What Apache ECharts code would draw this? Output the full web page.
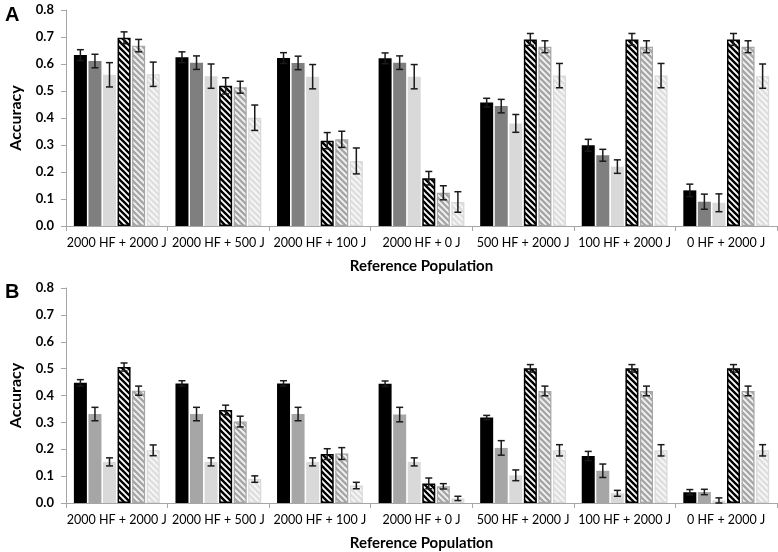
<!DOCTYPE html>
<html>
<head>
<meta charset="utf-8">
<script src="https://cdn.jsdelivr.net/npm/echarts@6/dist/echarts.min.js"></script>
<style>
html,body{margin:0;padding:0;background:#fff;}
#chart{width:778px;height:552px;}
</style>
</head>
<body>
<div id="chart"></div>
<script>
// ---------- DATA ----------
const categories = ['2000 HF + 2000 J','2000 HF + 500 J','2000 HF + 100 J','2000 HF + 0 J','500 HF + 2000 J','100 HF + 2000 J','0 HF + 2000 J'];
const yTicks = [0.0,0.1,0.2,0.3,0.4,0.5,0.6,0.7,0.8];

// Panel A
const A1 = [0.633,0.625,0.622,0.621,0.457,0.299,0.132];
const A1err = [0.020,0.020,0.020,0.020,0.016,0.022,0.023];
const A2 = [0.611,0.605,0.604,0.605,0.444,0.262,0.090];
const A2err = [0.025,0.025,0.025,0.025,0.025,0.022,0.028];
const A3 = [0.560,0.555,0.553,0.553,0.380,0.220,0.086];
const A3err = [0.045,0.045,0.045,0.045,0.033,0.025,0.033];
const A4 = [0.697,0.519,0.316,0.177,0.691,0.691,0.691];
const A4err = [0.022,0.030,0.030,0.025,0.022,0.022,0.022];
const A5 = [0.668,0.514,0.321,0.123,0.664,0.664,0.664];
const A5err = [0.023,0.022,0.030,0.026,0.022,0.022,0.022];
const A6 = [0.562,0.401,0.241,0.089,0.557,0.557,0.555];
const A6err = [0.045,0.047,0.048,0.038,0.045,0.045,0.045];

// Panel B
const B1 = [0.447,0.445,0.445,0.444,0.318,0.175,0.040];
const B1err = [0.012,0.010,0.010,0.010,0.008,0.017,0.010];
const B2 = [0.331,0.331,0.331,0.329,0.205,0.120,0.041];
const B2err = [0.025,0.025,0.025,0.027,0.027,0.025,0.010];
const B3 = [0.153,0.153,0.153,0.153,0.103,0.036,0.009];
const B3err = [0.015,0.015,0.015,0.015,0.020,0.011,0.010];
const B4 = [0.506,0.346,0.182,0.073,0.501,0.501,0.501];
const B4err = [0.015,0.018,0.020,0.020,0.014,0.014,0.014];
const B5 = [0.418,0.303,0.184,0.062,0.417,0.417,0.417];
const B5err = [0.017,0.020,0.022,0.010,0.018,0.018,0.018];
const B6 = [0.196,0.089,0.065,0.017,0.196,0.196,0.196];
const B6err = [0.020,0.012,0.012,0.008,0.021,0.021,0.021];

// ---------- STYLE ----------
const BAR_W = 13;
const BAR_GAP_FRAC = 0.12;
const FONT = 'Lato';

function hatch(stripe, bg){
  const s = 6;
  const c = document.createElement('canvas');
  c.width = s; c.height = s;
  const g = c.getContext('2d');
  g.fillStyle = bg; g.fillRect(0,0,s,s);
  g.strokeStyle = stripe; g.lineWidth = 2.4; g.lineCap = 'square';
  for (let k=-1;k<=1;k++){
    g.beginPath(); g.moveTo(k*s, 0); g.lineTo(k*s + s, s); g.stroke();
  }
  return {image: c, repeat: 'repeat'};
}

function styles(darkGray){
  return [
    {color:'#000000', borderColor:'#000000', borderWidth:0},
    {color:darkGray, borderColor:darkGray, borderWidth:0},
    {color:'#d9d9d9', borderColor:'#d9d9d9', borderWidth:0},
    {color:hatch('#000000','#ffffff'), borderColor:'#000000', borderWidth:1.5},
    {color:hatch('#a6a6a6','#f4f4f4'), borderColor:'#a6a6a6', borderWidth:1.2},
    {color:hatch('#dedede','#f7f7f7'), borderColor:'#d9d9d9', borderWidth:1.2}
  ];
}

const grids = [
  {left:56, right:1, top:10, height:216},
  {left:56, right:1, top:288, height:215}
];

function xAxis(gi){
  return {
    type:'category', gridIndex:gi, data:categories,
    axisLine:{lineStyle:{color:'#a6a6a6', width:1}},
    axisTick:{show:true, length:5, lineStyle:{color:'#a6a6a6'}},
    axisLabel:{color:'#000', fontFamily:FONT, fontSize:12.5, margin:10, interval:0},
    name:'Reference Population', nameLocation:'middle', nameGap:33,
    nameTextStyle:{fontFamily:FONT, fontWeight:'bold', fontSize:15, color:'#000'}
  };
}
function yAxis(gi){
  return {
    type:'value', gridIndex:gi, min:0, max:0.8, interval:0.1,
    axisLine:{show:true, lineStyle:{color:'#a6a6a6', width:1}},
    axisTick:{show:true, length:5, lineStyle:{color:'#a6a6a6'}},
    splitLine:{show:false},
    axisLabel:{color:'#000', fontFamily:FONT, fontSize:13, fontWeight:'bold', margin:12,
      formatter: v => v.toFixed(1)},
    name:'Accuracy', nameLocation:'middle', nameGap:42, nameRotate:90,
    nameTextStyle:{fontFamily:FONT, fontWeight:'bold', fontSize:16, color:'#000'}
  };
}

function barSeries(gi, arrs, darkGray){
  const st = styles(darkGray);
  return arrs.map((d,i) => ({
    type:'bar', xAxisIndex:gi, yAxisIndex:gi, data:d,
    barWidth:BAR_W, barGap:(BAR_GAP_FRAC*100)+'%',
    itemStyle:st[i], silent:true, animation:false
  }));
}

function errSeries(gi, arrs, errs){
  const rows = [];
  arrs.forEach((d,si) => d.forEach((v,ci) => rows.push([ci, v, errs[si][ci], si])));
  const n = arrs.length;
  return {
    type:'custom', xAxisIndex:gi, yAxisIndex:gi, data:rows, z:10, animation:false, silent:true,
    renderItem: function(params, api){
      const ci = api.value(0), v = api.value(1), e = api.value(2), si = api.value(3);
      const c = api.coord([ci, v]);
      const step = BAR_W*(1+BAR_GAP_FRAC);
      const x = c[0] + (si - (n-1)/2)*step;
      const yt = api.coord([ci, v+e])[1];
      const yb = api.coord([ci, Math.max(0, v-e)])[1];
      const hw = 3.5;
      const ls = {stroke:'#1a1a1a', lineWidth:1.5};
      return {type:'group', children:[
        {type:'line', shape:{x1:x, y1:yt, x2:x, y2:yb}, style:ls},
        {type:'line', shape:{x1:x-hw, y1:yt, x2:x+hw, y2:yt}, style:ls},
        {type:'line', shape:{x1:x-hw, y1:yb, x2:x+hw, y2:yb}, style:ls}
      ]};
    }
  };
}

const Aarr = [A1,A2,A3,A4,A5,A6];
const Aerr = [A1err,A2err,A3err,A4err,A5err,A6err];
const Barr = [B1,B2,B3,B4,B5,B6];
const Berr = [B1err,B2err,B3err,B4err,B5err,B6err];

const chart = echarts.init(document.getElementById('chart'), null, {renderer:'canvas'});
chart.setOption({
  animation:false,
  backgroundColor:'#ffffff',
  title:[
    {text:'A', left:0, top:0, textStyle:{fontFamily:'Liberation Sans', fontWeight:'bold', fontSize:20, color:'#000'}},
    {text:'B', left:0, top:277, textStyle:{fontFamily:'Liberation Sans', fontWeight:'bold', fontSize:20, color:'#000'}}
  ],
  grid:grids,
  xAxis:[xAxis(0), xAxis(1)],
  yAxis:[yAxis(0), yAxis(1)],
  series:[].concat(
    barSeries(0, Aarr, '#7f7f7f'),
    [errSeries(0, Aarr, Aerr)],
    barSeries(1, Barr, '#a6a6a6'),
    [errSeries(1, Barr, Berr)]
  )
});
</script>
</body>
</html>
